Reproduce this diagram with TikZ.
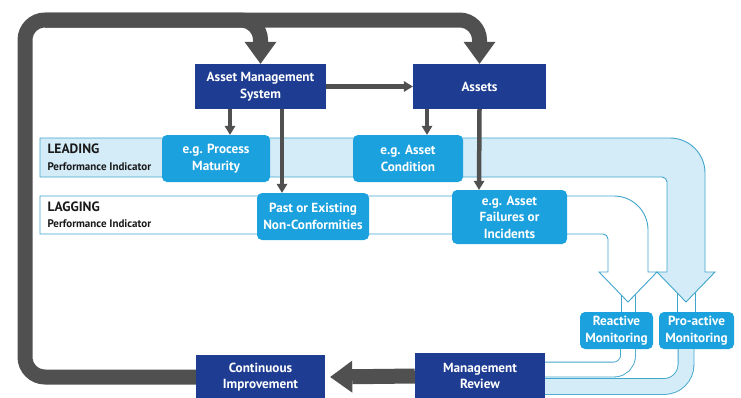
\documentclass[tikz,border=0pt]{standalone}
\usepackage{fontspec}
\setsansfont{PT Sans}
\usetikzlibrary{arrows.meta}
\definecolor{amnavy}{HTML}{1E3C91}
\definecolor{amcyan}{HTML}{1BA1DD}
\definecolor{amband}{HTML}{D4EBF8}
\definecolor{amedge}{HTML}{41A6CC}
\definecolor{amgray}{HTML}{505050}

\begin{document}
\begin{tikzpicture}[x=1pt, y=1pt,
  boxfont/.style={font=\sffamily\bfseries\fontsize{13.2}{16.5}\selectfont},
  navybox/.style={boxfont, fill=amnavy, text=white, align=center, inner sep=1pt},
  cyanbox/.style={boxfont, fill=amcyan, text=white, align=center, inner sep=1pt, rounded corners=5pt},
  band/.style={draw=amedge, line width=0.9pt},
  narrowband/.style={draw=amedge, line width=0.9pt, rounded corners=14pt},
  feed/.style={draw=amgray, line width=4.5pt, -{Triangle[width=11pt, length=9pt, line width=0pt]}},
  bigarrow/.style={draw=amgray, line width=15pt, rounded corners=20pt, -{Triangle[width=32pt, length=22pt, line width=0pt]}},
  kindtitle/.style={anchor=west, text=black!90, font=\sffamily\bfseries\fontsize{13.5}{15}\selectfont},
  kindsub/.style={anchor=west, text=black!90, font=\sffamily\bfseries\fontsize{11}{13}\selectfont}]

  \fill[white] (0,0) rectangle (741,-397);
  \useasboundingbox (0,0) rectangle (741,-397);

  % leading band, bent down into the pro-active arrow
  \filldraw[band, fill=amband] (40,-138) -- (670,-138) arc[start angle=90, end angle=0, radius=35]
    -- (705,-272) -- (715,-272) -- (686,-302) -- (657,-272) -- (667,-272)
    -- (667,-182) arc[start angle=0, end angle=90, radius=5] -- (40,-177) -- cycle;
  % lagging band, bent down into the reactive arrow
  \filldraw[band, fill=white] (40,-196) -- (614,-196) arc[start angle=90, end angle=0, radius=34]
    -- (648,-272) -- (657,-272) -- (628,-302) -- (599,-272) -- (608,-272)
    -- (608,-239) arc[start angle=0, end angle=90, radius=5] -- (40,-234) -- cycle;

  \node[kindtitle] (leadtitle) at (44,-149) {LEADING};
  \node[kindsub] (leadsub) at (44,-167) {Performance Indicator};
  \node[kindtitle] (lagtitle) at (44,-207) {LAGGING};
  \node[kindsub] (lagsub) at (44,-224) {Performance Indicator};

  \node[navybox, minimum width=131pt, minimum height=45pt] (ams) at (260.5,-86.5) {Asset Management\\System};
  \node[navybox, minimum width=133pt, minimum height=45pt] (assets) at (479.5,-86.5) {Assets};
  \node[navybox, minimum width=129pt, minimum height=44pt] (ci) at (260.5,-377) {Continuous\\Improvement};
  \node[navybox, minimum width=130pt, minimum height=46pt] (mr) at (480,-376) {Management\\Review};

  \node[cyanbox, minimum width=108pt, minimum height=47pt] (pm) at (216,-158.5) {e.g. Process\\Maturity};
  \node[cyanbox, minimum width=110pt, minimum height=47pt] (ac) at (408,-158.5) {e.g. Asset\\Condition};
  \node[cyanbox, minimum width=112pt, minimum height=47pt] (pe) at (313,-216.5) {Past or Existing\\Non-Conformities};
  \node[cyanbox, minimum width=115pt, minimum height=54pt] (af) at (509.5,-217) {e.g. Asset\\Failures or\\Incidents};
  \node[cyanbox, minimum width=73pt, minimum height=37pt] (rm) at (616.5,-330.5) {Reactive\\Monitoring};
  \node[cyanbox, minimum width=75pt, minimum height=37pt] (pa) at (696.5,-330.5) {Pro-active\\Monitoring};

  % monitoring bands running on into the review
  \draw[band] ([xshift=4.5pt]rm.north) -- ++(0,17.2);
  \draw[band] ([xshift=18.5pt]rm.north) -- ++(0,17.2);
  \draw[band] ([xshift=-19.5pt]pa.north) -- ++(0,19.3);
  \draw[band] ([xshift=-1.5pt]pa.north) -- ++(0,19.3);
  \draw[narrowband, double=white, double distance=14pt] ([xshift=11.5pt]rm.south) |- ([yshift=6.5pt]mr.east);
  \draw[narrowband, double=amband, double distance=15pt, rounded corners=22pt] ([xshift=-10.5pt]pa.south) |- ([yshift=-10.5pt]mr.east);

  % indicators fed by system and assets
  \draw[feed] (ams.east) -- (assets.west);
  \draw[feed] ([xshift=-30.5pt]ams.south) -- ([xshift=14pt]pm.north);
  \draw[feed] ([xshift=21.5pt]ams.south) -- ([xshift=-31pt]pe.north);
  \draw[feed] ([xshift=-52.5pt]assets.south) -- ([xshift=19pt]ac.north);
  \draw[feed] (assets.south) -- ([xshift=-30.5pt]af.north);

  % improvement loop
  \coordinate (turn) at (25,-20);
  \draw[bigarrow] (mr.west) -- ([xshift=5pt]ci.east);
  \draw[bigarrow] (ci.west) -| (turn) -| (ams.north);
  \draw[bigarrow] ([xshift=20pt]turn) -| (assets.north);
\end{tikzpicture}
\end{document}
